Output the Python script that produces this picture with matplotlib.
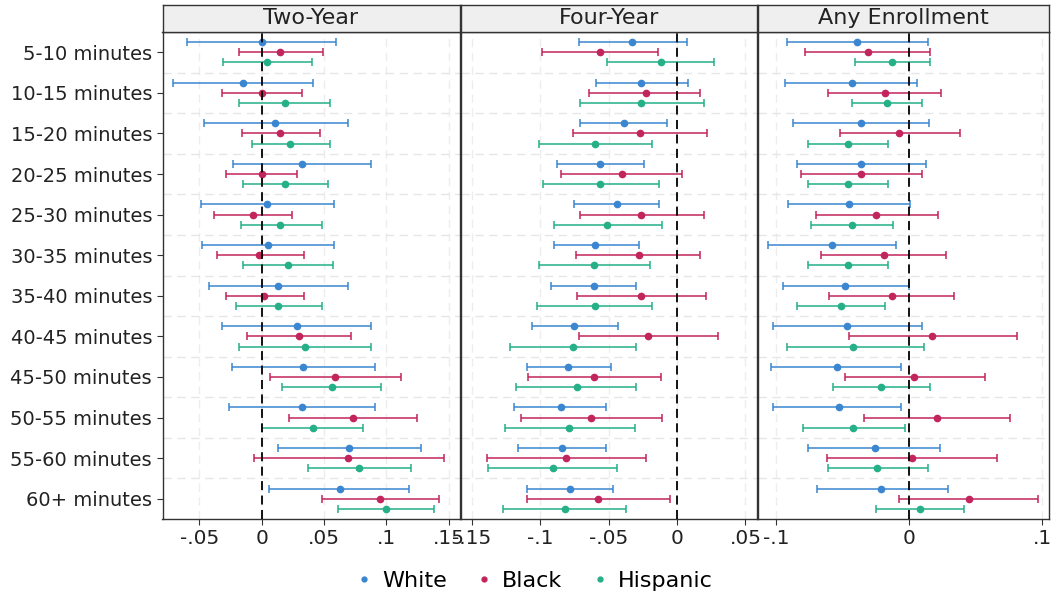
import matplotlib
matplotlib.use("Agg")
import matplotlib.pyplot as plt
from matplotlib.lines import Line2D
import numpy as np

categories = ["5-10 minutes", "10-15 minutes", "15-20 minutes", "20-25 minutes",
              "25-30 minutes", "30-35 minutes", "35-40 minutes", "40-45 minutes",
              "45-50 minutes", "50-55 minutes", "55-60 minutes", "60+ minutes"]
groups = ["White", "Black", "Hispanic"]
panels = ["Two-Year", "Four-Year", "Any Enrollment"]

# Two-Year
two_white = [0.000, -0.015, 0.011, 0.032, 0.004, 0.005, 0.013, 0.028, 0.033, 0.032, 0.070, 0.063]
two_white_lo = [-0.060, -0.071, -0.046, -0.023, -0.049, -0.048, -0.042, -0.032, -0.024, -0.026, 0.013, 0.006]
two_white_hi = [0.060, 0.041, 0.069, 0.088, 0.058, 0.058, 0.069, 0.088, 0.091, 0.091, 0.128, 0.118]
two_black = [0.015, 0.000, 0.015, 0.000, -0.007, -0.002, 0.002, 0.030, 0.059, 0.073, 0.069, 0.095]
two_black_lo = [-0.018, -0.032, -0.016, -0.029, -0.038, -0.036, -0.029, -0.012, 0.007, 0.022, -0.006, 0.048]
two_black_hi = [0.049, 0.032, 0.047, 0.028, 0.024, 0.034, 0.034, 0.072, 0.112, 0.125, 0.146, 0.142]
two_hisp = [0.004, 0.019, 0.023, 0.019, 0.015, 0.021, 0.013, 0.035, 0.056, 0.041, 0.078, 0.100]
two_hisp_lo = [-0.031, -0.018, -0.008, -0.015, -0.017, -0.015, -0.021, -0.018, 0.016, 0.000, 0.037, 0.061]
two_hisp_hi = [0.040, 0.055, 0.055, 0.053, 0.048, 0.057, 0.048, 0.088, 0.096, 0.081, 0.120, 0.138]

# Four-Year
four_white = [-0.033, -0.026, -0.039, -0.056, -0.044, -0.060, -0.061, -0.075, -0.080, -0.085, -0.084, -0.078]
four_white_lo = [-0.072, -0.059, -0.071, -0.088, -0.075, -0.090, -0.092, -0.106, -0.110, -0.119, -0.116, -0.110]
four_white_hi = [0.007, 0.008, -0.007, -0.024, -0.013, -0.028, -0.030, -0.043, -0.048, -0.052, -0.052, -0.047]
four_black = [-0.056, -0.023, -0.027, -0.040, -0.026, -0.028, -0.026, -0.021, -0.061, -0.063, -0.081, -0.058]
four_black_lo = [-0.099, -0.064, -0.076, -0.085, -0.071, -0.074, -0.073, -0.072, -0.109, -0.114, -0.139, -0.110]
four_black_hi = [-0.014, 0.017, 0.022, 0.004, 0.020, 0.017, 0.021, 0.030, -0.012, -0.011, -0.023, -0.005]
four_hisp = [-0.012, -0.026, -0.060, -0.056, -0.051, -0.061, -0.060, -0.076, -0.073, -0.079, -0.091, -0.082]
four_hisp_lo = [-0.051, -0.071, -0.101, -0.098, -0.090, -0.101, -0.102, -0.122, -0.118, -0.126, -0.138, -0.127]
four_hisp_hi = [0.027, 0.020, -0.018, -0.013, -0.011, -0.020, -0.018, -0.030, -0.030, -0.031, -0.044, -0.037]

# Any Enrollment
any_white = [-0.039, -0.043, -0.036, -0.036, -0.045, -0.058, -0.048, -0.047, -0.054, -0.053, -0.026, -0.021]
any_white_lo = [-0.092, -0.093, -0.087, -0.084, -0.091, -0.106, -0.095, -0.102, -0.104, -0.102, -0.076, -0.069]
any_white_hi = [0.014, 0.006, 0.015, 0.013, 0.001, -0.010, 0.000, 0.010, -0.006, -0.006, 0.023, 0.029]
any_black = [-0.031, -0.018, -0.008, -0.036, -0.025, -0.019, -0.013, 0.017, 0.004, 0.021, 0.002, 0.045]
any_black_lo = [-0.078, -0.061, -0.052, -0.081, -0.070, -0.066, -0.060, -0.045, -0.048, -0.034, -0.062, -0.008]
any_black_hi = [0.016, 0.024, 0.038, 0.010, 0.022, 0.028, 0.034, 0.081, 0.057, 0.076, 0.066, 0.097]
any_hisp = [-0.013, -0.017, -0.046, -0.046, -0.043, -0.046, -0.051, -0.042, -0.021, -0.042, -0.024, 0.008]
any_hisp_lo = [-0.041, -0.043, -0.076, -0.076, -0.074, -0.076, -0.084, -0.092, -0.057, -0.080, -0.061, -0.025]
any_hisp_hi = [0.016, 0.010, -0.016, -0.016, -0.012, -0.016, -0.018, 0.011, 0.016, -0.003, 0.014, 0.041]

panel_data = [
    [(two_white, two_white_lo, two_white_hi),
     (two_black, two_black_lo, two_black_hi),
     (two_hisp, two_hisp_lo, two_hisp_hi)],
    [(four_white, four_white_lo, four_white_hi),
     (four_black, four_black_lo, four_black_hi),
     (four_hisp, four_hisp_lo, four_hisp_hi)],
    [(any_white, any_white_lo, any_white_hi),
     (any_black, any_black_lo, any_black_hi),
     (any_hisp, any_hisp_lo, any_hisp_hi)],
]

ticks = [[-0.05, 0, 0.05, 0.1, 0.15],
         [-0.15, -0.1, -0.05, 0, 0.05],
         [-0.1, 0, 0.1]]
tick_labels = [["-.05", "0", ".05", ".1", ".15"],
               ["-.15", "-.1", "-.05", "0", ".05"],
               ["-.1", "0", ".1"]]

colors = ["#3a86d0", "#c2255c", "#25b088"]
offsets = [-0.25, 0, 0.25]
xlims = [(-0.0796, 0.1587), (-0.1583, 0.0585), (-0.1135, 0.1050)]

W, H = 1051, 601
fig = plt.figure(figsize=(W / 100, H / 100), dpi=100)
plt.rcParams["font.family"] = "DejaVu Sans"

# pixel boxes (left, right) of each panel
px_bounds = [(162.5, 459.5), (460.5, 757.0), (758.0, 1049.0)]
top_px, bot_px, head_px = 32, 519, 5

y = np.arange(len(categories))
for p, (l, r) in enumerate(px_bounds):
    ax = fig.add_axes([l / W, 1 - bot_px / H, (r - l) / W, (bot_px - top_px) / H])
    for g, (est, lo, hi) in enumerate(panel_data[p]):
        est = np.array(est)
        err = [est - np.array(lo), np.array(hi) - est]
        ax.errorbar(est, y + offsets[g], xerr=err, fmt="o", color=colors[g],
                    ms=4.5, elinewidth=1.1, capsize=3, capthick=1.1, zorder=3)
    ax.axvline(0, color="black", lw=1.3, ls=(0, (5, 3)), zorder=4)
    ax.set_xlim(*xlims[p])
    ax.set_ylim(len(categories) - 0.5, -0.5)
    ax.set_xticks(ticks[p])
    ax.set_xticklabels(tick_labels[p], fontsize=14.5, color="#222222")
    ax.set_yticks(y)
    ax.set_yticks(np.arange(len(categories) - 1) + 0.5, minor=True)
    ax.grid(axis="y", which="minor", color="#e6e6e6", lw=1, ls=(0, (6, 4)))
    ax.grid(axis="x", which="major", color="#ededed", lw=1, ls=(0, (6, 4)))
    ax.tick_params(axis="y", which="minor", length=0)
    ax.tick_params(axis="x", length=4, color="#333333")
    if p == 0:
        ax.set_yticklabels(categories, fontsize=14, color="#222222")
        ax.tick_params(axis="y", which="major", length=4, color="#333333")
    else:
        ax.set_yticklabels([])
        ax.tick_params(axis="y", which="major", length=0)
    for s in ax.spines.values():
        s.set_color("#333333")
        s.set_linewidth(1.0)

    # header strip
    hax = fig.add_axes([l / W, 1 - top_px / H, (r - l) / W, (top_px - head_px) / H])
    hax.set_facecolor("#efefef")
    hax.set_xticks([])
    hax.set_yticks([])
    for s in hax.spines.values():
        s.set_color("#333333")
        s.set_linewidth(1.0)
    hax.text(0.5, 0.5, panels[p], ha="center", va="center", fontsize=16,
             color="#222222", transform=hax.transAxes)

handles = [Line2D([], [], marker="o", ls="", color=c, ms=3.5) for c in colors]
fig.legend(handles, groups, loc="center", bbox_to_anchor=(533 / W, 1 - 581 / H),
           ncol=3, frameon=False, fontsize=16, handletextpad=0.3, columnspacing=1.2,
           handlelength=1.0)

fig.savefig("out.png", dpi=100, facecolor="white")
